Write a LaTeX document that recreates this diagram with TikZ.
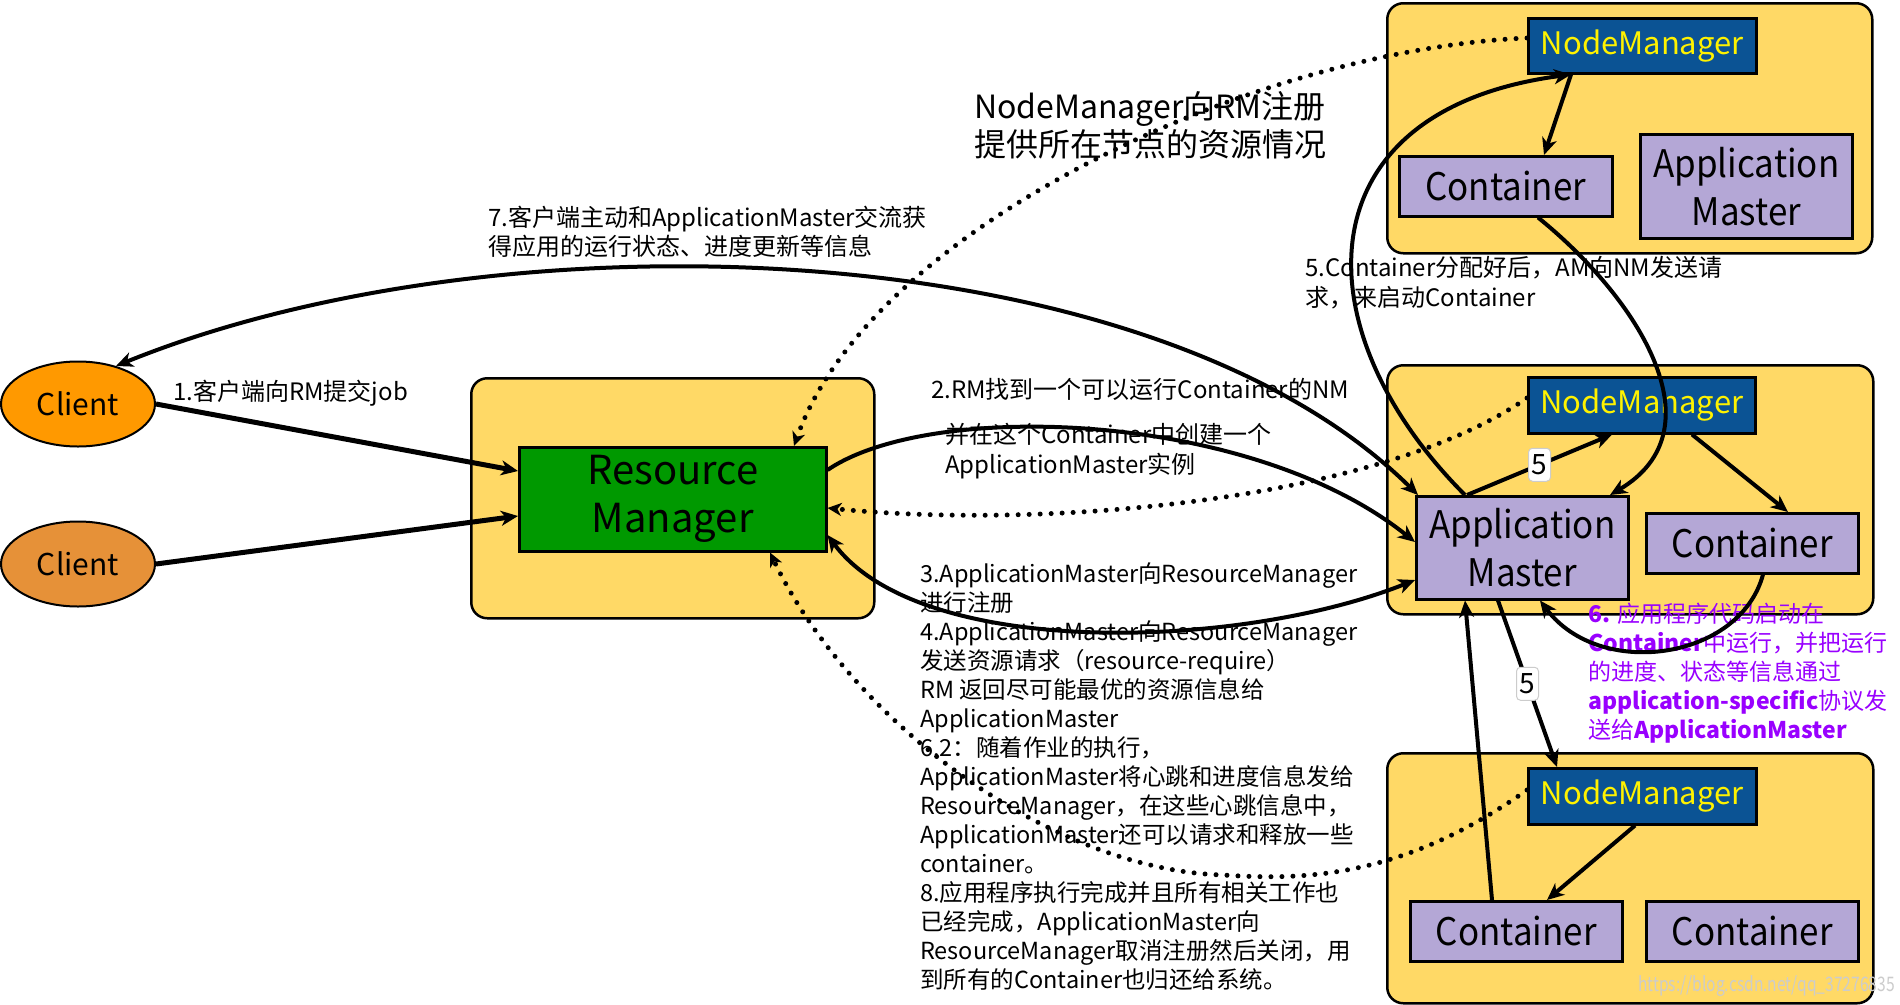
\documentclass[tikz,border=0pt]{standalone}
\usepackage{fontspec}
\setmainfont{Noto Sans CJK SC}
\usetikzlibrary{arrows.meta,shapes.geometric}
\definecolor{ybg}{HTML}{FFD966}
\definecolor{gbox}{HTML}{009900}
\definecolor{nmblue}{HTML}{0B5394}
\definecolor{pbox}{HTML}{B4A7D6}
\definecolor{corange}{HTML}{FF9900}
\definecolor{corange2}{HTML}{E69138}
\definecolor{ptext}{HTML}{9900FF}
\newcommand{\narrowtxt}[1]{\scalebox{0.92}[1]{#1}}
\tikzset{
  bigtip/.tip={Stealth[length=17pt,width=15pt,inset=5pt]},
  dottip/.tip={Stealth[length=14pt,width=13pt,inset=4pt]},
  region/.style={draw=black, line width=2.5pt, fill=ybg, rounded corners=16pt, anchor=north west, inner sep=0pt},
  box/.style={draw=black, line width=2.5pt, inner sep=0pt, anchor=north west, align=center},
  bigtext/.style={font=\fontsize{40pt}{48pt}\selectfont},
  nmtext/.style={font=\fontsize{31pt}{31pt}\selectfont, text=yellow},
  nmbox/.style={box, fill=nmblue, nmtext},
  pbx/.style={box, fill=pbox, font=\fontsize{38pt}{48pt}\selectfont},
  client/.style={ellipse, draw=black, line width=2pt, minimum width=154pt, minimum height=85pt, inner sep=0pt, font=\fontsize{30pt}{30pt}\selectfont},
  con/.style={line width=4pt, -bigtip},
  con2/.style={line width=4pt, bigtip-bigtip},
  dots/.style={line width=5pt, line cap=round, dash pattern=on 0pt off 11pt, -dottip},
  lbl/.style={anchor=north west, inner sep=0pt, align=left, font=\fontsize{24pt}{29pt}\selectfont},
  badge/.style={fill=white, draw=gray!40, line width=1pt, rounded corners=4pt, minimum width=22pt, minimum height=33pt, inner sep=0pt, font=\fontsize{28pt}{28pt}\selectfont},
}
\begin{document}
\begin{tikzpicture}[x=1pt,y=-1pt]
\useasboundingbox[fill=white] (0,0) rectangle (1900,1004);
% regions
\node[region, minimum width=403pt, minimum height=240pt] (rmreg) at (470,377) {};
\node[region, minimum width=485pt, minimum height=250pt] (topreg) at (1386,2) {};
\node[region, minimum width=486pt, minimum height=249pt] (midreg) at (1386,364) {};
\node[region, minimum width=486pt, minimum height=250pt] (botreg) at (1386,752) {};
% boxes
\node[box, fill=gbox, bigtext, minimum width=307pt, minimum height=104pt] (rm) at (518,446) {Resource\\Manager};
\node[nmbox, minimum width=228pt, minimum height=55pt] (nmt) at (1527,17) {NodeManager};
\node[pbx, minimum width=213pt, minimum height=60pt] (ct) at (1398,155) {\narrowtxt{Container}};
\node[pbx, minimum width=212pt, minimum height=104pt] (amt) at (1639,133) {\narrowtxt{Application}\\\narrowtxt{Master}};
\node[nmbox, minimum width=227pt, minimum height=56pt] (nmm) at (1527,376) {NodeManager};
\node[pbx, minimum width=212pt, minimum height=103pt] (am) at (1415,495) {\narrowtxt{Application}\\\narrowtxt{Master}};
\node[pbx, minimum width=212pt, minimum height=60pt] (cm) at (1645,512) {\narrowtxt{Container}};
\node[nmbox, minimum width=228pt, minimum height=56pt] (nmb) at (1527,767) {NodeManager};
\node[pbx, minimum width=212pt, minimum height=60pt] (cbl) at (1409,900) {\narrowtxt{Container}};
\node[pbx, minimum width=212pt, minimum height=60pt] (cbr) at (1645,900) {\narrowtxt{Container}};
\node[client, fill=corange] (c1) at (78,404) {Client};
\node[client, fill=corange2] (c2) at (78,564) {Client};
% texts
\node[lbl, font=\fontsize{32pt}{38pt}\selectfont] (t0) at (974,91) {NodeManager向RM注册\\提供所在节点的资源情况};
\node[lbl] (t7) at (488,206) {7.客户端主动和ApplicationMaster交流获\\得应用的运行状态、进度更新等信息};
\node[lbl] (t1) at (173,380) {1.客户端向RM提交job};
\node[lbl] (t2) at (931,378) {2.RM找到一个可以运行Container的NM};
\node[lbl, font=\fontsize{24pt}{30pt}\selectfont] (t2b) at (945,423) {并在这个Container中创建一个\\ApplicationMaster实例};
\node[lbl, font=\fontsize{24pt}{30pt}\selectfont] (t5) at (1305,256) {5.Container分配好后，AM向NM发送请\\求，来启动Container};
\node[lbl, font=\fontsize{23.5pt}{29pt}\selectfont] (tblock) at (920,562) {3.ApplicationMaster向ResourceManager\\
进行注册\\
4.ApplicationMaster向ResourceManager\\
发送资源请求（resource-require）\\
RM 返回尽可能最优的资源信息给\\
ApplicationMaster\\
6.2：随着作业的执行，\\
ApplicationMaster将心跳和进度信息发给\\
ResourceManager，在这些心跳信息中，\\
ApplicationMaster还可以请求和释放一些\\
container。\\
8.应用程序执行完成并且所有相关工作也\\
已经完成，ApplicationMaster向\\
ResourceManager取消注册然后关闭，用\\
到所有的Container也归还给系统。};
\node[lbl, text=ptext, font=\fontsize{23pt}{29pt}\selectfont] (t6) at (1588,603) {\textbf{6.} 应用程序代码启动在\\
\textbf{Container}中运行，并把运行\\
的进度、状态等信息通过\\
\textbf{application-specific}协议发\\
送给\textbf{ApplicationMaster}};
\node[anchor=east, inner sep=0pt, text=gray!40, font=\fontsize{20pt}{20pt}\selectfont] (wm) at (1895,986) {\scalebox{0.78}[1]{https://blog.csdn.net/qq\_37276835}};
% connectors
\coordinate (dotmid) at (1223,875);
\draw[con, line width=5pt] (c1.east) -- ([yshift=-25pt]rm.north west);
\draw[con, line width=5pt] (c2.east) -- ([yshift=-70pt]rm.north west);
\draw[con2] ([xshift=3pt]am.north west) .. controls (1150,230) and (500,210) .. (c1.45);
\draw[con] ([yshift=-24pt]rm.north east) .. controls (930,400) and (1250,410) .. ([yshift=-47pt]am.north west);
\draw[con2] ([yshift=-89pt]rm.north east) .. controls (920,660) and (1240,650) .. ([yshift=-85pt]am.north west);
\draw[dots] ([yshift=-21pt]nmt.north west) .. controls (1250,50) and (870,230) .. ([xshift=276pt]rm.north west);
\draw[dots] ([yshift=-22pt]nmm.north west) .. controls (1380,500) and (1050,530) .. ([yshift=-62pt]rm.north east);
\draw[dots] ([yshift=-23pt]nmb.north west) .. controls (1400,880) and (1300,880) .. (dotmid) .. controls (1050,870) and (850,720) .. ([xshift=252pt]rm.south west);
\draw[con] ([xshift=50pt]am.north west) .. controls (1300,330) and (1300,110) .. ([xshift=44pt]nmt.south west);
\draw[con] ([xshift=44pt]nmt.south west) -- ([xshift=146pt]ct.north west);
\draw[con] ([xshift=140pt]ct.south west) .. controls (1640,300) and (1720,430) .. ([xshift=195pt]am.north west);
\draw[con] ([xshift=165pt]nmm.south west) -- ([xshift=143pt]cm.north west);
\draw[con] ([xshift=118pt]cm.south west) .. controls (1740,660) and (1600,680) .. ([xshift=125pt]am.south west);
\draw[con] ([xshift=108pt]nmb.south west) -- ([xshift=138pt]cbl.north west);
\draw[con] ([xshift=83pt]cbl.north west) -- ([xshift=50pt]am.south west);
\draw[con] ([xshift=52pt]am.north west) -- ([xshift=85pt]nmm.south west) node[badge, pos=0.5] (five1) {5};
\draw[con] ([xshift=83pt]am.south west) -- ([xshift=30pt]nmb.north west) node[badge, pos=0.5] (five2) {5};
\end{tikzpicture}
\end{document}
